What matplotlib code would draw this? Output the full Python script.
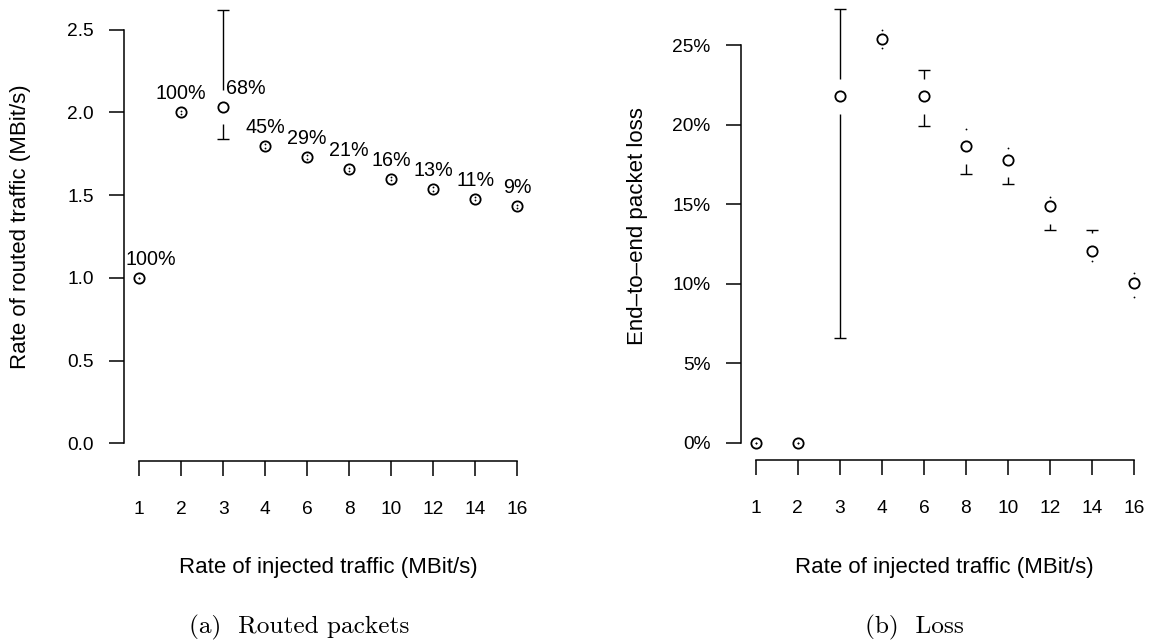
import numpy as np
import matplotlib
matplotlib.use("Agg")
import matplotlib.pyplot as plt

plt.rcParams['font.family'] = ['Liberation Sans', 'DejaVu Sans']

rates = ["1", "2", "3", "4", "6", "8", "10", "12", "14", "16"]

# (a) routed traffic, MBit/s, with CI bounds
routed = [1.00, 2.00, 2.033, 1.797, 1.731, 1.656, 1.600, 1.538, 1.479, 1.433]
routed_lo = [1.00, 1.99, 1.842, 1.787, 1.721, 1.646, 1.590, 1.528, 1.469, 1.423]
routed_hi = [1.00, 2.01, 2.621, 1.807, 1.741, 1.666, 1.610, 1.548, 1.489, 1.443]
routed_share = ["100%", "100%", "68%", "45%", "29%", "21%", "16%", "13%", "11%", "9%"]

# (b) end-to-end loss in percent, with CI bounds
loss = [0.0, 0.0, 21.79, 25.40, 21.79, 18.64, 17.78, 14.86, 12.09, 10.05]
loss_lo = [0.0, 0.0, 6.59, 24.83, 19.90, 16.92, 16.29, 13.35, 11.46, 9.15]
loss_hi = [0.0, 0.0, 27.29, 25.94, 23.43, 19.72, 18.51, 15.43, 13.41, 10.66]

W, H = 1150, 644
fig = plt.figure(figsize=(W / 100, H / 100), dpi=100)

GAP_PX = 17.4
PX_PER_X = 42.05


def make_axes(left_px, bottom_px, hi):
    # R-like limits: 4% padding around the data range
    r = max(hi) - 0
    ylim = (0 - 0.04 * r, max(hi) + 0.04 * r)
    xlim = (1 - 0.04 * 9, 10 + 0.04 * 9)
    w_px = (xlim[1] - xlim[0]) * PX_PER_X
    h_px = 468.4
    ax = fig.add_axes([left_px / W, 1 - bottom_px / H, w_px / W, h_px / H])
    ax.set_xlim(xlim)
    ax.set_ylim(ylim)
    ax.patch.set_visible(False)
    for s in ['top', 'right']:
        ax.spines[s].set_visible(False)
    for s in ['left', 'bottom']:
        ax.spines[s].set_linewidth(1.1)
    ax.spines['bottom'].set_bounds(1, 10)
    ax.set_xticks(np.arange(1, 11))
    ax.set_xticklabels(rates)
    ax.tick_params(axis='both', direction='out', length=10.8, width=1.1, labelsize=13.8)
    ax.tick_params(axis='x', pad=18)
    ax.tick_params(axis='y', pad=10.8)
    gap = GAP_PX * (ylim[1] - ylim[0]) / h_px
    px = (ylim[1] - ylim[0]) / h_px
    return ax, gap, px


def plot_ci(ax, y, lo, hi, gap, px):
    x = np.arange(1, len(y) + 1)
    ax.plot(x, y, 'o', ms=7.4, mfc='none', mec='black', mew=1.3, zorder=3, clip_on=False)
    for xi, yi, l, h in zip(x, y, lo, hi):
        for end, start in ((h, yi + gap), (l, yi - gap)):
            if abs(end - yi) > gap + 1.5 * px:
                ax.plot([xi, xi], [start, end], color='black', lw=1.0,
                        solid_capstyle='butt', clip_on=False)
                ax.plot(xi, end, marker='_', ms=8.6, mew=1.0, color='black', clip_on=False)
            else:
                ax.plot(xi, end, 'o', ms=1.3, mew=0, color='black', clip_on=False)


# left panel
ax1, gap1, px1 = make_axes(123.9, 460.7, routed_hi)
ax1.spines['left'].set_bounds(0, 2.5)
ax1.set_yticks([0, 0.5, 1.0, 1.5, 2.0, 2.5])
ax1.set_yticklabels(["0.0", "0.5", "1.0", "1.5", "2.0", "2.5"])
plot_ci(ax1, routed, routed_lo, routed_hi, gap1, px1)
label_dx = [12, 0, 23, 0, 0, 0, 0, 0, 0, 0]
for i, txt in enumerate(routed_share):
    ax1.annotate(txt, (i + 1, routed[i]), xytext=(label_dx[i], 13),
                 textcoords='offset pixels', ha='center', va='baseline', fontsize=14.2)

# right panel
ax2, gap2, px2 = make_axes(740.6, 460.0, loss_hi)
ax2.spines['left'].set_bounds(0, 25)
ax2.set_yticks([0, 5, 10, 15, 20, 25])
ax2.set_yticklabels(["0%", "5%", "10%", "15%", "20%", "25%"])
plot_ci(ax2, loss, loss_lo, loss_hi, gap2, px2)

# axis labels and captions
fig.text(328 / W, 1 - 572.7 / H, "Rate of injected traffic (MBit/s)",
         ha='center', va='baseline', fontsize=16)
fig.text(944.7 / W, 1 - 572.7 / H, "Rate of injected traffic (MBit/s)",
         ha='center', va='baseline', fontsize=16)
fig.text(21 / W, 1 - 226.3 / H, "Rate of routed traffic (MBit/s)",
         ha='center', va='center', rotation=90, fontsize=16)
fig.text(637 / W, 1 - 226.3 / H, "End\u2013to\u2013end packet loss",
         ha='center', va='center', rotation=90, fontsize=16)

cap_font = ['cmr10', 'DejaVu Serif']
fig.text(298.7 / W, 1 - 633.3 / H, "(a)  Routed packets", family=cap_font,
         ha='center', va='baseline', fontsize=18.2)
fig.text(914.7 / W, 1 - 633.3 / H, "(b)  Loss", family=cap_font,
         ha='center', va='baseline', fontsize=18.2)

fig.savefig("out.png", dpi=100, facecolor='white')
